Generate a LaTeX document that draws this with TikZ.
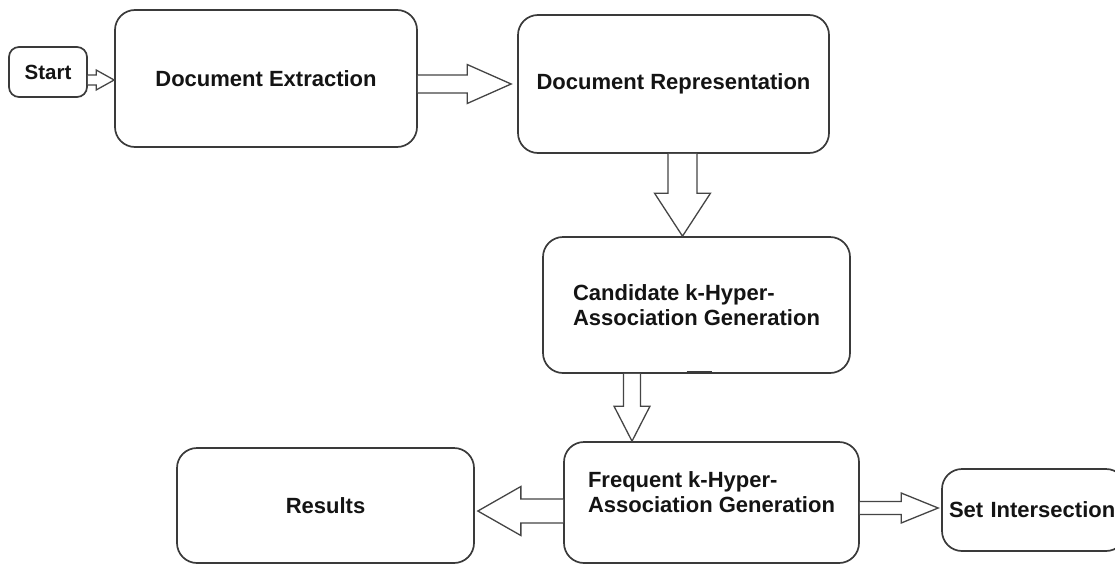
\documentclass[tikz,border=0pt]{standalone}
\usepackage{fontspec}
\setmainfont{Liberation Sans}
\usetikzlibrary{calc}

\definecolor{boxgray}{HTML}{3A3A3A}
\definecolor{arrowgray}{HTML}{454545}

\tikzset{
  box/.style={draw=boxgray, line width=1.7pt, rounded corners=20pt, inner sep=0pt,
    font=\bfseries\fontsize{22}{25}\selectfont, text=black!92},
  hollowarrow/.style={draw=arrowgray, line width=1.3pt, fill=white, line join=miter},
}

% hollow block arrow: from, to (tip), shaft half width, head half width, head length
\newcommand\blockarrow[5]{%
  \path ($(#2)!#5!(#1)$) coordinate (hb);
  \draw[hollowarrow] ($(#1)!#3!90:(#2)$) -- ($(hb)!#3!90:(#2)$) -- ($(hb)!#4!90:(#2)$)
    -- (#2) -- ($(hb)!#4!-90:(#2)$) -- ($(hb)!#3!-90:(#2)$) -- ($(#1)!#3!-90:(#2)$);
}

\begin{document}
\begin{tikzpicture}[x=1pt, y=-1pt]
  \path[fill=white, use as bounding box] (0,0) rectangle (1115,565);

  % process steps
  \node[box, rounded corners=10pt, minimum width=78pt, minimum height=50pt,
        font=\bfseries\fontsize{20.5}{24}\selectfont] (start) at (48,72) {Start};
  \node[box, minimum width=302pt, minimum height=137pt] (ext) at (266,78.5) {Document Extraction};
  \node[box, minimum width=311pt, minimum height=138pt] (rep) at (673.5,84) {Document Representation};
  \node[box, minimum width=307pt, minimum height=136pt, align=left] (cand) at (696.5,305)
        {Candidate k-Hyper-\\Association Generation};
  \node[box, minimum width=295pt, minimum height=121pt] (freq) at (711.5,502.5)
        {\raisebox{8pt}[\height][\depth]{\begin{tabular}{@{}l@{}}Frequent k-Hyper-\\Association Generation\end{tabular}}};
  \node[box, minimum width=297pt, minimum height=115pt] (res) at (325.5,505.5) {Results};
  % runs past the right margin
  \node[box, inner xsep=7pt, text width=170pt, align=left, minimum height=82pt] (set) at (1034,510)
        {Set Intersection};

  % small mark on the lower edge of the candidate step
  \draw[boxgray, line width=2pt] ($(cand.south)+(-10,-2)$) -- ($(cand.south)+(15,-2)$);

  % arrow end points
  \coordinate (a1) at ($(start.east)+(0,8)$);
  \coordinate (b1) at (a1 -| ext.west);
  \coordinate (a2) at ($(ext.east)+(0,5.5)$);
  \coordinate (b2) at ($(a2 -| rep.west)+(-6,0)$);
  \coordinate (a3) at ($(rep.south)+(9,0)$);
  \coordinate (b3) at (a3 |- cand.north);
  \coordinate (a4) at ($(cand.south)+(-64.5,0)$);
  \coordinate (b4) at (a4 |- freq.north);
  \coordinate (a5) at ($(freq.west)+(0,8.5)$);
  \coordinate (b5) at ($(a5 -| res.east)+(3,0)$);
  \coordinate (a6) at ($(freq.east)+(0,5.5)$);
  \coordinate (b6) at ($(a6 -| set.west)+(-3,0)$);

  % flow arrows
  \blockarrow{a1}{b1}{5pt}{10pt}{18pt}
  \blockarrow{a2}{b2}{9pt}{19.5pt}{44pt}
  \blockarrow{a3}{b3}{14.5pt}{28pt}{43pt}
  \blockarrow{a4}{b4}{8.5pt}{18pt}{35pt}
  \blockarrow{a5}{b5}{12pt}{24.5pt}{43pt}
  \blockarrow{a6}{b6}{6.5pt}{15pt}{37pt}
\end{tikzpicture}
\end{document}
